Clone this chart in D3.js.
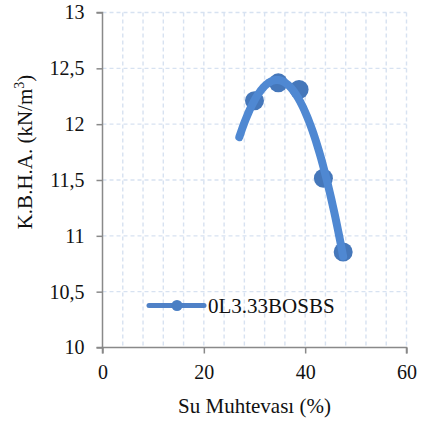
<!DOCTYPE html>
<html>
<head>
<meta charset="utf-8">
<script src="https://cdn.jsdelivr.net/npm/d3@7"></script>
<style>
  html, body { margin: 0; padding: 0; background: #fff; }
  svg { display: block; }
  svg text { font-family: "Liberation Serif", "Times New Roman", Times, serif; }
</style>
</head>
<body>
<svg id="chart" width="428" height="425"></svg>
<script>
// ---- data ----
const waterContent = [30.0, 34.7, 38.8, 43.6, 47.5];          // Su Muhtevası (%)
const dryUnitWeight = [12.21, 12.37, 12.31, 11.515, 10.855];  // K.B.H.A. (kN/m3)
const seriesName = "0L3.33BOSBS";
const xTicks = [0, 20, 40, 60];
const yTicks = [10, 10.5, 11, 11.5, 12, 12.5, 13];
const trendBackward = 3;   // trendline extended backward by 3 units
const trendOrder = 2;      // polynomial trendline order

const FONT = "'Liberation Serif', 'Times New Roman', Times, serif";

// ---- layout ----
const svg = d3.select("#chart");
const x = d3.scaleLinear().domain([0, 60]).range([102.5, 406.5]);
const y = d3.scaleLinear().domain([10, 13]).range([347.5, 12.5]);
const fmtY = v => String(v).replace(".", ",");

// grid
const gridColor = "#d7e2f1";
const g = svg.append("g");
g.selectAll("line.vg").data(d3.range(4, 61, 4)).join("line")
  .attr("x1", d => x(d)).attr("x2", d => x(d))
  .attr("y1", y(13)).attr("y2", y(10))
  .attr("stroke", gridColor).attr("stroke-width", 1.4).attr("stroke-dasharray", "4,3");
g.selectAll("line.hg").data(yTicks.filter(v => v > 10)).join("line")
  .attr("x1", x(0)).attr("x2", x(60))
  .attr("y1", d => y(d)).attr("y2", d => y(d))
  .attr("stroke", gridColor).attr("stroke-width", 1.4).attr("stroke-dasharray", "4,3");

// axes
const axisColor = "#898989";
const yAxis = svg.append("g").attr("transform", `translate(${x(0)},0)`)
  .call(d3.axisLeft(y).tickValues(yTicks).tickFormat(fmtY).tickSize(6).tickPadding(12));
const xAxis = svg.append("g").attr("transform", `translate(0,${y(10)})`)
  .call(d3.axisBottom(x).tickValues(xTicks).tickSize(6).tickPadding(11));
[xAxis, yAxis].forEach(a => {
  a.attr("font-family", FONT).attr("font-size", 20);
  a.select(".domain").attr("stroke", axisColor).attr("stroke-width", 1.5);
  a.selectAll(".tick line").attr("stroke", axisColor).attr("stroke-width", 1.5);
  a.selectAll("text").attr("fill", "#111").attr("font-size", 20).style("font-family", FONT);
});
yAxis.select(".domain").attr("d", `M-6,${y(13)}H0V${y(10)}H-6`);
xAxis.select(".domain").attr("d", `M${x(0)},6V0H${x(60)}V6`);

// polynomial trendline (least squares on a normalised variable)
const xm = d3.mean(waterContent), xs = 10;
function polyfit(xv, yv, order) {
  const t = xv.map(v => (v - xm) / xs);
  const n = order + 1;
  const A = [];
  for (let i = 0; i < n; i++) {
    const row = [];
    for (let j = 0; j < n; j++) {
      let s = 0;
      for (let k = 0; k < t.length; k++) s += Math.pow(t[k], i + j);
      row.push(s);
    }
    let r = 0;
    for (let k = 0; k < t.length; k++) r += yv[k] * Math.pow(t[k], i);
    row.push(r);
    A.push(row);
  }
  for (let c = 0; c < n; c++) {
    let p = c;
    for (let r = c + 1; r < n; r++) if (Math.abs(A[r][c]) > Math.abs(A[p][c])) p = r;
    const tmp = A[c]; A[c] = A[p]; A[p] = tmp;
    for (let r = 0; r < n; r++) {
      if (r === c) continue;
      const f = A[r][c] / A[c][c];
      for (let k = c; k <= n; k++) A[r][k] -= f * A[c][k];
    }
  }
  const out = [];
  for (let i = 0; i < n; i++) out.push(A[i][n] / A[i][i]);
  return out;
}
const coef = polyfit(waterContent, dryUnitWeight, trendOrder);
function evalPoly(v) {
  const t = (v - xm) / xs;
  let s = 0;
  for (let i = 0; i < coef.length; i++) s += coef[i] * Math.pow(t, i);
  return s;
}
const [xMin, xMax] = d3.extent(waterContent);
const trendStart = xMin - trendBackward;
const nSteps = 80;
const trendX = d3.range(nSteps + 1).map(i => trendStart + (xMax - trendStart) * i / nSteps);

const markerColor = "#4577ba";
const lineColor = "#4f88d2";

svg.append("g").selectAll("circle").data(waterContent).join("circle")
  .attr("cx", d => x(d)).attr("cy", (d, i) => y(dryUnitWeight[i]))
  .attr("r", 9.5).attr("fill", markerColor);

svg.append("path")
  .attr("d", d3.line().x(d => x(d)).y(d => y(evalPoly(d)))(trendX))
  .attr("fill", "none").attr("stroke", lineColor).attr("stroke-width", 8)
  .attr("stroke-linecap", "round").attr("stroke-linejoin", "round");

// legend
const lg = svg.append("g");
lg.append("line").attr("x1", 149).attr("x2", 204).attr("y1", 305.5).attr("y2", 305.5)
  .attr("stroke", "#4f81c7").attr("stroke-width", 5).attr("stroke-linecap", "round");
lg.append("circle").attr("cx", 177).attr("cy", 305.5).attr("r", 5.5).attr("fill", "#4a7fc4");
lg.append("text").attr("x", 208).attr("y", 312.5).attr("font-size", 21).attr("fill", "#111")
  .style("font-family", FONT).text(seriesName);

// axis titles
svg.append("text").attr("x", 254.5).attr("y", 413).attr("text-anchor", "middle")
  .attr("font-size", 21).attr("fill", "#111").style("font-family", FONT).text("Su Muhtevası (%)");
const yt = svg.append("text").attr("transform", "translate(32,152) rotate(-90)")
  .attr("text-anchor", "middle").attr("font-size", 21).attr("fill", "#111").style("font-family", FONT);
yt.append("tspan").text("K.B.H.A. (kN/m");
yt.append("tspan").attr("font-size", 14).attr("dy", -8).text("3");
yt.append("tspan").attr("dy", 8).text(")");
</script>
</body>
</html>
